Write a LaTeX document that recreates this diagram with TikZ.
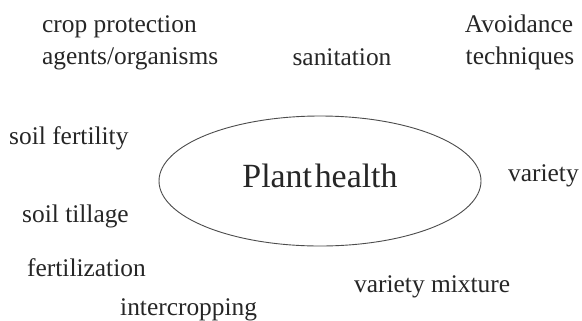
\documentclass[tikz,border=0pt]{standalone}
\usepackage{fontspec}
\setmainfont{Liberation Serif}
\begin{document}
\begin{tikzpicture}[x=1bp,y=-1bp,
  lbl/.style={inner sep=0pt, font=\fontsize{25.5}{32}\selectfont, text=black!85}]
\useasboundingbox (0,0) rectangle (582,320);
\fill[white] (0,0) rectangle (582,320);
\draw[draw=black!70, line width=0.9bp] (320,181) ellipse [x radius=161, y radius=65];
\node[lbl, font=\fontsize{34}{40}\selectfont, anchor=base] (ph) at (320,187) {Plant\hspace{0.08em}health};
\node[lbl, anchor=base west] (cp) at (42,32) {crop protection};
\node[lbl, anchor=base west] (ag) at (42,64) {agents/organisms};
\node[lbl, anchor=base] (san) at (342,65) {sanitation};
\node[lbl, anchor=base] (av) at (519,32) {Avoidance};
\node[lbl, anchor=base] (tq) at (520,64) {techniques};
\node[lbl, anchor=base west] (sf) at (9,144) {soil fertility};
\node[lbl, anchor=base west] (var) at (508,181) {variety};
\node[lbl, anchor=base west] (st) at (22,222) {soil tillage};
\node[lbl, anchor=base west] (fe) at (27,276) {fertilization};
\node[lbl, anchor=base west] (vm) at (354,292) {variety mixture};
\node[lbl, anchor=base west] (ic) at (120,315) {intercropping};
\end{tikzpicture}
\end{document}
